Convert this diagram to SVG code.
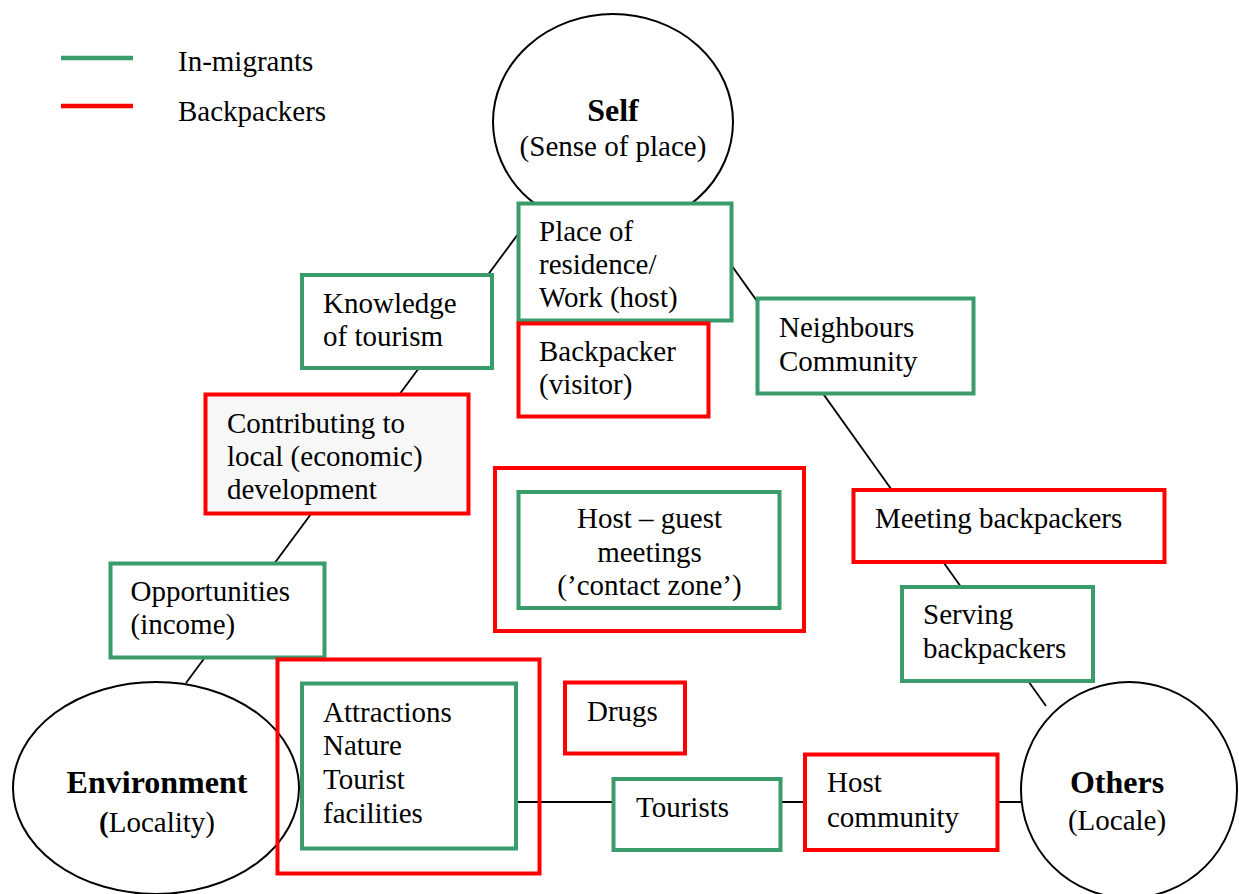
<svg xmlns="http://www.w3.org/2000/svg" width="1239" height="894" viewBox="0 0 1239 894">
<style>
.g{fill:#fff;stroke:#3A9B6B;stroke-width:4}
.r{fill:#fff;stroke:#FF0000;stroke-width:4}
.rn{fill:none;stroke:#FF0000;stroke-width:4}
.gray{fill:#F7F7F7}
.ell{fill:#fff;stroke:#000;stroke-width:2}
.t{font-family:"Liberation Serif","Times New Roman",serif;font-size:29px;fill:#000}
.c{text-anchor:middle}
.b{font-weight:bold;font-size:32px}
.conn line{stroke:#000;stroke-width:1.8}
</style>
<rect width="1239" height="894" fill="#fff"/>
<g id="legend">
<line x1="61" y1="58" x2="133" y2="58" stroke="#3A9B6B" stroke-width="4.5"/>
<line x1="61" y1="106" x2="133" y2="106" stroke="#FF0000" stroke-width="4.5"/>
<text class="t" x="178" y="71">In-migrants</text>
<text class="t" x="178" y="121">Backpackers</text>
</g>
<g id="connectors" class="conn">
<line x1="541" y1="203" x2="186" y2="683"/>
<line x1="687" y1="203" x2="1046" y2="706"/>
<line x1="518" y1="802" x2="1022" y2="802"/>
</g>
<g id="self">
<ellipse class="ell" cx="613" cy="122" rx="120" ry="108"/>
<text class="t c b" x="613" y="121">Self</text>
<text class="t c" x="613" y="156">(Sense of place)</text>
</g>
<g id="environment">
<ellipse class="ell" cx="156" cy="788" rx="143" ry="106"/>
<text class="t c b" x="157" y="793">Environment</text>
<text class="t c" x="157" y="832"><tspan font-weight="bold">(</tspan>Locality)</text>
</g>
<g id="others">
<ellipse class="ell" cx="1129" cy="790" rx="108" ry="108"/>
<text class="t c b" x="1117" y="793">Others</text>
<text class="t c" x="1117" y="830">(Locale)</text>
</g>
<g id="place">
<rect class="g" x="518.5" y="203.5" width="213" height="117"/>
<text class="t" x="539" y="241">Place of</text>
<text class="t" x="539" y="274">residence/</text>
<text class="t" x="539" y="307">Work (host)</text>
</g>
<g id="backpacker">
<rect class="r" x="518.5" y="323.5" width="190" height="93"/>
<text class="t" x="539" y="361">Backpacker</text>
<text class="t" x="539" y="394">(visitor)</text>
</g>
<g id="knowledge">
<rect class="g" x="302" y="275" width="190" height="93"/>
<text class="t" x="323" y="313">Knowledge</text>
<text class="t" x="323" y="346">of tourism</text>
</g>
<g id="contributing">
<rect class="r gray" x="205.5" y="394.5" width="263" height="119"/>
<text class="t" x="227" y="433">Contributing to</text>
<text class="t" x="227" y="466">local (economic)</text>
<text class="t" x="227" y="499">development</text>
</g>
<g id="opportunities">
<rect class="g" x="110.5" y="563.5" width="214" height="94"/>
<text class="t" x="130.5" y="601">Opportunities</text>
<text class="t" x="130.5" y="634">(income)</text>
</g>
<g id="neighbours">
<rect class="g" x="757.5" y="298.5" width="216" height="95"/>
<text class="t" x="779" y="337">Neighbours</text>
<text class="t" x="779" y="371">Community</text>
</g>
<g id="contact-zone">
<rect class="r" x="495" y="468" width="309" height="163"/>
<rect class="g" x="518.5" y="492" width="261" height="116"/>
<text class="t c" x="649.5" y="528">Host – guest</text>
<text class="t c" x="649.5" y="561.5">meetings</text>
<text class="t c" x="649.5" y="595">(’contact zone’)</text>
</g>
<g id="meeting">
<rect class="r" x="853.5" y="490" width="311" height="72"/>
<text class="t" x="875" y="528">Meeting backpackers</text>
</g>
<g id="serving">
<rect class="g" x="902" y="587" width="191" height="94"/>
<text class="t" x="923" y="624">Serving</text>
<text class="t" x="923" y="658">backpackers</text>
</g>
<g id="attractions">
<rect class="rn" x="277.5" y="659.5" width="262" height="214"/>
<rect class="g" x="302" y="683.5" width="214" height="165"/>
<text class="t" x="323" y="722">Attractions</text>
<text class="t" x="323" y="755">Nature</text>
<text class="t" x="323" y="788.5">Tourist</text>
<text class="t" x="323" y="822.5">facilities</text>
</g>
<g id="drugs">
<rect class="r" x="565" y="682.5" width="120" height="71"/>
<text class="t" x="587" y="721">Drugs</text>
</g>
<g id="tourists">
<rect class="g" x="613.5" y="779" width="167" height="71"/>
<text class="t" x="636" y="817">Tourists</text>
</g>
<g id="host-community">
<rect class="r" x="805" y="754.5" width="192.5" height="95.5"/>
<text class="t" x="827" y="792">Host</text>
<text class="t" x="827" y="827">community</text>
</g>
</svg>
